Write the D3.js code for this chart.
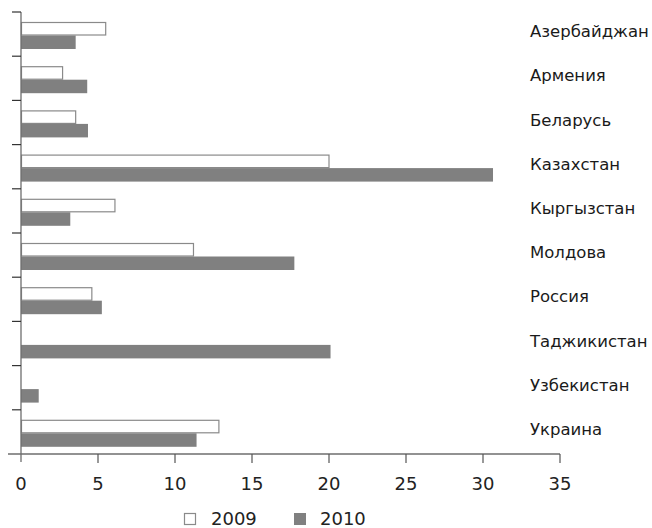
<!DOCTYPE html>
<html><head><meta charset="utf-8">
<script src="https://cdn.jsdelivr.net/npm/d3@7"></script>
<style>body{margin:0;background:#fff}svg{display:block}</style>
</head><body>
<script>
const categories = ["Азербайджан","Армения","Беларусь","Казахстан","Кыргызстан","Молдова","Россия","Таджикистан","Узбекистан","Украина"];
const series2009 = [5.5, 2.7, 3.55, 20.0, 6.1, 11.2, 4.6, null, null, 12.85];
const series2010 = [3.55, 4.3, 4.35, 30.65, 3.2, 17.75, 5.25, 20.1, 1.15, 11.4];
const xTicks = [0,5,10,15,20,25,30,35];
const legendLabels = ["2009","2010"];

const W=652,H=528;
const svg=d3.select("body").append("svg").attr("width",W).attr("height",H);
const x=d3.scaleLinear().domain([0,35]).range([21,560]);
const y=d3.scaleBand().domain(categories).range([12,454]);
const font="DejaVu Sans, sans-serif";
const barH=13.5, off=10;

// bars
const g=svg.append("g");
categories.forEach((c,i)=>{
  const y0=y(c)+off;
  if(series2009[i]!=null){
    g.append("rect").attr("x",x(0)+0.5).attr("y",y0+0.5)
      .attr("width",x(series2009[i])-x(0)-0.5).attr("height",barH-1)
      .attr("fill","#fff").attr("stroke","#8a8a8a").attr("stroke-width",1.2);
  }
  g.append("rect").attr("x",x(0)).attr("y",y0+barH)
    .attr("width",x(series2010[i])-x(0)).attr("height",barH)
    .attr("fill","#808080");
});

// y axis
svg.append("line").attr("x1",x(0)).attr("x2",x(0)).attr("y1",12).attr("y2",462)
  .attr("stroke","#6e6e6e").attr("stroke-width",1.3);
const yEdges=categories.map(c=>y(c));
svg.selectAll(".yt").data(yEdges).enter().append("line")
  .attr("x1",12).attr("x2",x(0)).attr("y1",d=>d).attr("y2",d=>d)
  .attr("stroke","#333").attr("stroke-width",1.2);

// x axis
svg.append("line").attr("x1",8).attr("x2",x(35)).attr("y1",454).attr("y2",454)
  .attr("stroke","#6e6e6e").attr("stroke-width",1.3);
svg.selectAll(".xt").data(xTicks.slice(1)).enter().append("line")
  .attr("x1",d=>x(d)).attr("x2",d=>x(d)).attr("y1",454).attr("y2",463)
  .attr("stroke","#555").attr("stroke-width",1.2);
svg.selectAll(".xl").data(xTicks).enter().append("text")
  .attr("x",d=>x(d)).attr("y",490).attr("text-anchor","middle")
  .attr("font-family",font).attr("font-size",18).attr("fill","#222").text(d=>d);

// category labels
svg.selectAll(".cl").data(categories).enter().append("text")
  .attr("x",530).attr("y",d=>y(d)+y.bandwidth()/2+3)
  .attr("font-family",font).attr("font-size",16.5).attr("fill","#1a1a1a").text(d=>d);

// legend
const leg=svg.append("g");
leg.append("rect").attr("x",184.5).attr("y",513.5).attr("width",11).attr("height",11)
  .attr("fill","#fff").attr("stroke","#8a8a8a").attr("stroke-width",1.2);
leg.append("text").attr("x",211).attr("y",525).attr("font-family",font).attr("font-size",18).attr("fill","#222").text(legendLabels[0]);
leg.append("rect").attr("x",294).attr("y",513).attr("width",12).attr("height",12).attr("fill","#808080");
leg.append("text").attr("x",320).attr("y",525).attr("font-family",font).attr("font-size",18).attr("fill","#222").text(legendLabels[1]);
</script>
</body></html>
